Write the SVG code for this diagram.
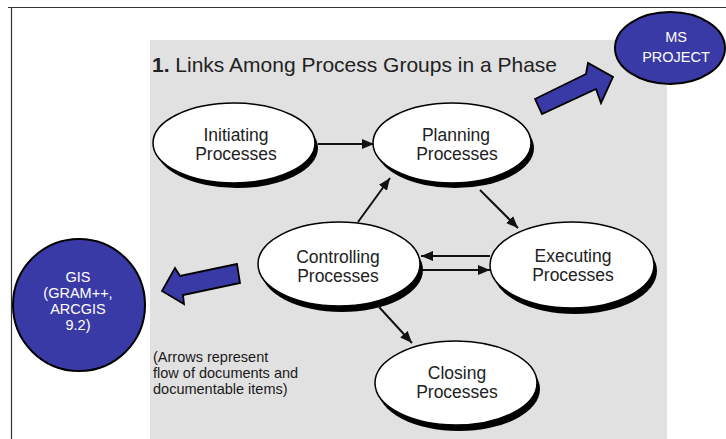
<svg xmlns="http://www.w3.org/2000/svg" width="726" height="439" viewBox="0 0 726 439">
<defs>
<style>
.proc-shadow{fill:#000}
.proc{fill:#fff;stroke:#000;stroke-width:1.5}
.plabel{font-family:"Liberation Sans",Arial,sans-serif;font-size:17.5px;fill:#222;text-anchor:middle}
.blue{fill:#3a3aa6;stroke:#000;stroke-width:2}
.blabel{font-family:"Liberation Sans",Arial,sans-serif;font-size:14.5px;fill:#fff;text-anchor:middle}
.conn{stroke:#111;stroke-width:2;fill:none;marker-end:url(#ah)}
.barrow{fill:#3a3aa6;stroke:#000;stroke-width:1.8;stroke-linejoin:miter}
</style>
<marker id="ah" markerUnits="userSpaceOnUse" markerWidth="12" markerHeight="10" refX="12" refY="5" orient="auto">
<path d="M0,0 L12,5 L0,10 Z" fill="#111"/>
</marker>
</defs>
<rect x="0" y="0" width="726" height="439" fill="#fff"/>
<path d="M8,7.5 H726 M11.5,7.5 V439" stroke="#333" stroke-width="1.2" fill="none"/>
<rect x="150" y="40" width="517" height="399" fill="#e1e1e1"/>
<text x="152" y="72" font-family="Liberation Sans,Arial,sans-serif" font-size="21" fill="#222"><tspan font-weight="bold">1.</tspan> Links Among Process Groups in a Phase</text>

<g id="connectors">
<line class="conn" x1="318" y1="144" x2="374" y2="144"/>
<line class="conn" x1="358" y1="222" x2="390" y2="178"/>
<line class="conn" x1="480" y1="190" x2="518" y2="228"/>
<line class="conn" x1="490" y1="256" x2="421" y2="256"/>
<line class="conn" x1="421" y1="270" x2="490" y2="270"/>
<line class="conn" x1="379" y1="307" x2="412" y2="343"/>
</g>

<g id="initiating">
<ellipse class="proc-shadow" cx="237" cy="148" rx="81" ry="40"/>
<ellipse class="proc" cx="234" cy="143" rx="81" ry="40"/>
<text class="plabel" x="236" y="141">Initiating</text>
<text class="plabel" x="236" y="160">Processes</text>
</g>
<g id="planning">
<ellipse class="proc-shadow" cx="455" cy="148" rx="79" ry="40"/>
<ellipse class="proc" cx="452" cy="143" rx="79" ry="40"/>
<text class="plabel" x="456" y="141">Planning</text>
<text class="plabel" x="457" y="160">Processes</text>
</g>
<g id="controlling">
<ellipse class="proc-shadow" cx="342" cy="270" rx="81" ry="42"/>
<ellipse class="proc" cx="339" cy="264" rx="81" ry="42"/>
<text class="plabel" x="338" y="263">Controlling</text>
<text class="plabel" x="338" y="282">Processes</text>
</g>
<g id="executing">
<ellipse class="proc-shadow" cx="575" cy="271" rx="82" ry="43"/>
<ellipse class="proc" cx="572" cy="265" rx="82" ry="43"/>
<text class="plabel" x="573" y="262">Executing</text>
<text class="plabel" x="573" y="281">Processes</text>
</g>
<g id="closing">
<ellipse class="proc-shadow" cx="459" cy="389" rx="81" ry="42"/>
<ellipse class="proc" cx="456" cy="383" rx="81" ry="42"/>
<text class="plabel" x="457" y="379">Closing</text>
<text class="plabel" x="457" y="398">Processes</text>
</g>

<g id="note">
<text font-family="Liberation Sans,Arial,sans-serif" font-size="14.5" fill="#1a1a1a">
<tspan x="153" y="362">(Arrows represent</tspan>
<tspan x="153" y="378">flow of documents and</tspan>
<tspan x="153" y="394">documentable items)</tspan>
</text>
</g>

<g id="ms-project">
<ellipse class="blue" cx="670" cy="48" rx="55" ry="36"/>
<text class="blabel" x="676" y="42">MS</text>
<text class="blabel" x="676" y="62">PROJECT</text>
</g>
<g id="gis">
<ellipse class="blue" cx="79" cy="305" rx="66" ry="66"/>
<text class="blabel" x="78" y="282">GIS</text>
<text class="blabel" x="78" y="298">(GRAM++,</text>
<text class="blabel" x="78" y="314">ARCGIS</text>
<text class="blabel" x="78" y="330">9.2)</text>
</g>

<g id="arrow-to-ms-project">
<polygon class="barrow" points="535,99 586,74 588,63 613,77 601,103 596,89 542,114"/>
</g>
<g id="arrow-to-gis">
<polygon class="barrow" points="237,264 180,276 175,268 162,291 184,304 183,295 240,283"/>
</g>
</svg>
